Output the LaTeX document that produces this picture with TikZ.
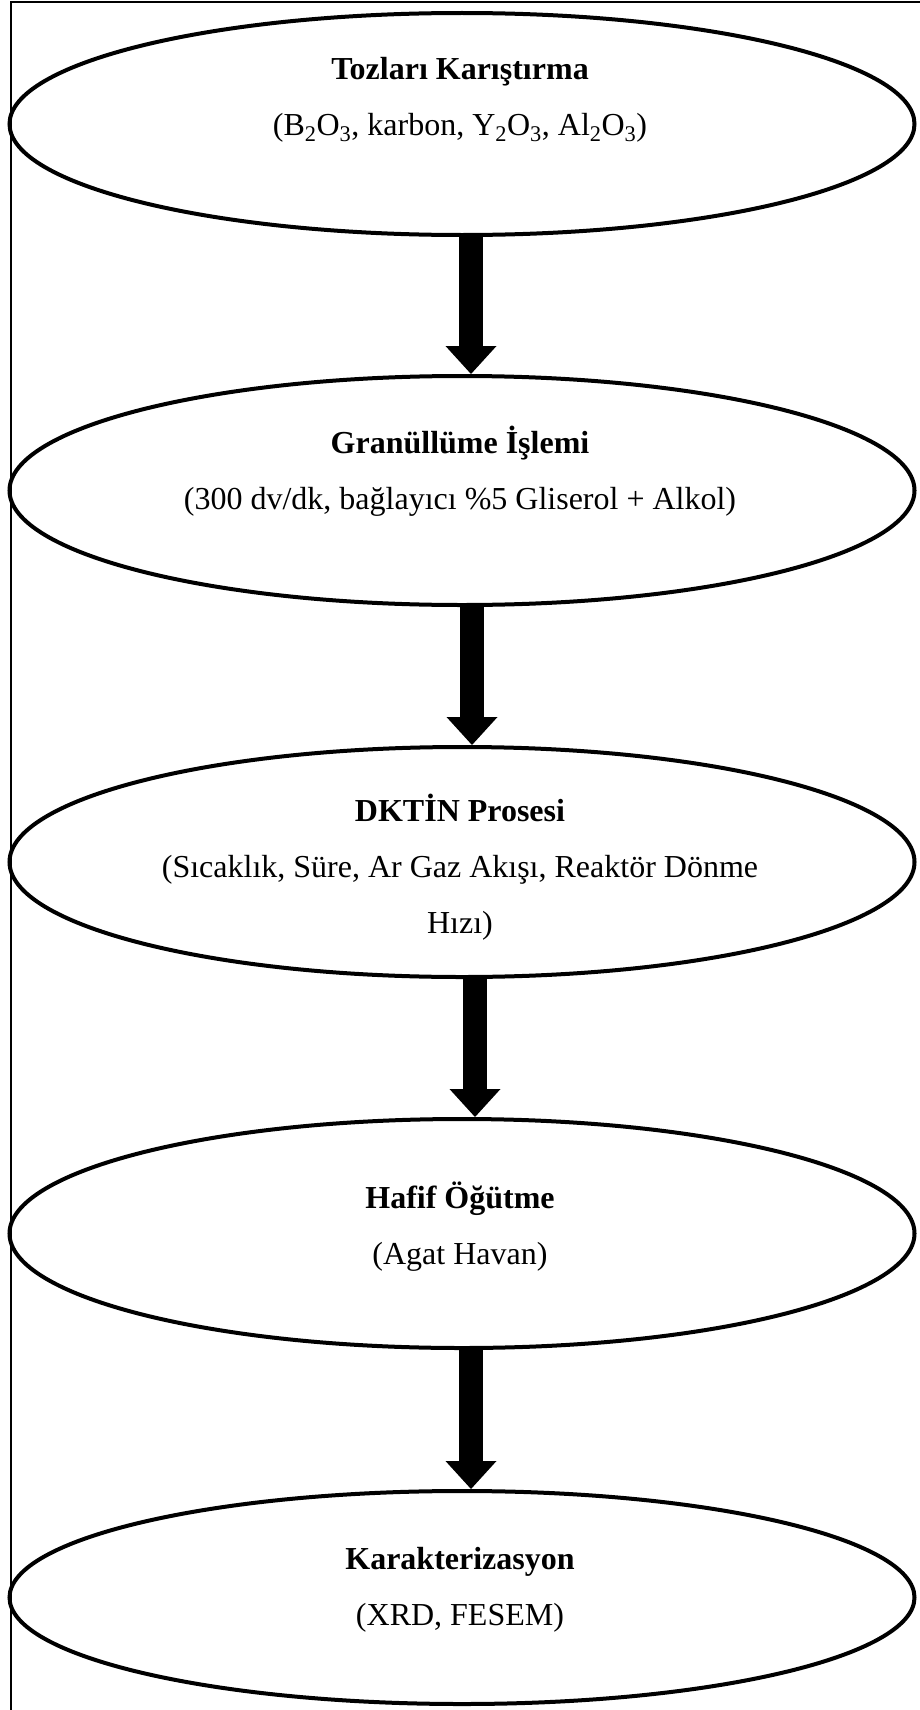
\documentclass[tikz,border=0pt]{standalone}
\usepackage{fontspec}
\setmainfont{Liberation Serif}
\usetikzlibrary{arrows.meta,shapes.geometric}

\begin{document}
\begin{tikzpicture}[x=1pt,y=-1pt]
\tikzset{
  procnode/.style={ellipse,draw=black,line width=4pt,minimum width=905pt,inner sep=0pt},
  proctext/.style={align=center,font=\fontsize{32}{56}\selectfont,inner sep=0pt},
  flowarrow/.style={draw=black,line width=24pt,-{Triangle[width=51pt,length=28pt,line width=0pt]}},
  framerule/.style={draw=black,line width=2pt}
}
\useasboundingbox (0,0) rectangle (920,1710);
\draw[framerule] (11,1710) -- (11,2) -- (920,2);
\node[procnode,minimum height=222pt] (n_mix) at (462,124) {};
\node[procnode,minimum height=229pt] (n_gran) at (462,490.5) {};
\node[procnode,minimum height=230pt] (n_dktin) at (462,862) {};
\node[procnode,minimum height=229pt] (n_grind) at (462,1233.5) {};
\node[procnode,minimum height=213pt] (n_char) at (462,1597.5) {};
\node[proctext] (t_mix) at (460,99.5) {\textbf{Tozları Karıştırma}\\(B\textsubscript{2}O\textsubscript{3}, karbon, Y\textsubscript{2}O\textsubscript{3}, Al\textsubscript{2}O\textsubscript{3})};
\node[proctext] (t_gran) at (460,471) {\textbf{Granüllüme İşlemi}\\(300 dv/dk, bağlayıcı \%5 Gliserol + Alkol)};
\node[proctext] (t_dktin) at (460,867) {\textbf{DKTİN Prosesi}\\(Sıcaklık, Süre, Ar Gaz Akışı, Reaktör Dönme\\Hızı)};
\node[proctext] (t_grind) at (460,1226.5) {\textbf{Hafif Öğütme}\\(Agat Havan)};
\node[proctext] (t_char) at (460,1589.5) {\textbf{Karakterizasyon}\\(XRD, FESEM)};
\draw[flowarrow] ([xshift=9pt]n_mix.south) -- ([xshift=9pt]n_gran.north);
\draw[flowarrow] ([xshift=10pt]n_gran.south) -- ([xshift=10pt]n_dktin.north);
\draw[flowarrow] ([xshift=13pt]n_dktin.south) -- ([xshift=13pt]n_grind.north);
\draw[flowarrow] ([xshift=9pt]n_grind.south) -- ([xshift=9pt]n_char.north);
\end{tikzpicture}
\end{document}
